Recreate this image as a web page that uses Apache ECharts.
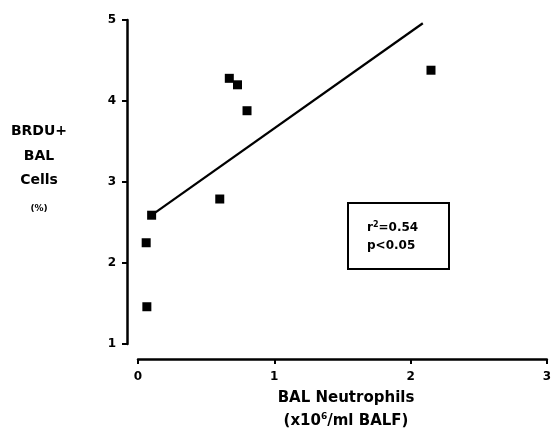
<!DOCTYPE html>
<html><head><meta charset="utf-8">
<script src="https://cdn.jsdelivr.net/npm/echarts@6/dist/echarts.min.js"></script>
<style>html,body{margin:0;padding:0;background:#fff}#c{width:554px;height:432px}</style>
</head><body><div id="c"></div>
<script>
const neutrophils = [0.06, 0.065, 0.10, 0.60, 0.67, 0.73, 0.80, 2.15];
const brduCells   = [2.25, 1.46, 2.59, 2.79, 4.28, 4.20, 3.88, 4.38];
const fitX = [0.10, 2.09];
const fitY = [2.59, 4.96];
const xTicks = [0, 1, 2, 3];
const yTicks = [1, 2, 3, 4, 5];
const yTitle = ['BRDU+', 'BAL', 'Cells', '(%)'];
const xTitle1 = 'BAL Neutrophils';
const xTitle2 = ['(x10', '6', '/ml BALF)'];
const statsText = [['r', '2', '=0.54'], ['p<0.05']];

const chart = echarts.init(document.getElementById('c'), null, {renderer: 'canvas'});
const font = '"DejaVu Sans", Verdana, sans-serif';
chart.setOption({
  animation: false,
  backgroundColor: '#fff',
  grid: {left: 138, right: 4, top: 20, bottom: 88, containLabel: false},
  xAxis: {
    type: 'value', min: xTicks[0], max: xTicks[xTicks.length - 1], interval: 1,
    offset: 15,
    axisLine: {show: true, onZero: false, lineStyle: {color: '#000', width: 2.5}},
    axisTick: {show: true, length: 5, lineStyle: {color: '#000', width: 2}},
    axisLabel: {color: '#000', fontFamily: font, fontWeight: 'bold', fontSize: 12, margin: 12},
    splitLine: {show: false}
  },
  yAxis: {
    type: 'value', min: yTicks[0], max: yTicks[yTicks.length - 1], interval: 1,
    offset: 11,
    axisLine: {show: true, onZero: false, lineStyle: {color: '#000', width: 2.5}},
    axisTick: {show: true, length: 5, lineStyle: {color: '#000', width: 2}},
    axisLabel: {color: '#000', fontFamily: font, fontWeight: 'bold', fontSize: 12, margin: 11},
    splitLine: {show: false}
  },
  series: [
    {
      type: 'line', data: fitX.map((x, i) => [x, fitY[i]]),
      symbol: 'none', lineStyle: {color: '#000', width: 2.2}, z: 2
    },
    {
      type: 'scatter', data: neutrophils.map((x, i) => [x, brduCells[i]]),
      symbol: 'rect', symbolSize: 9, itemStyle: {color: '#000', opacity: 1}, z: 3
    }
  ],
  graphic: [
    ...yTitle.map((t, i) => ({
      type: 'text', x: 39, y: [131, 156, 180, 209][i],
      style: {text: t, fill: '#000', font: (i === 3 ? 'bold 9px ' : 'bold 14px ') + font, align: 'center', verticalAlign: 'middle'}
    })),
    {
      type: 'text', x: 346, y: 398,
      style: {text: xTitle1, fill: '#000', font: 'bold 15px ' + font, align: 'center', verticalAlign: 'middle'}
    },
    {
      type: 'text', x: 346, y: 421,
      style: {
        text: '{a|' + xTitle2[0] + '}{s|' + xTitle2[1] + '}{a|' + xTitle2[2] + '}',
        align: 'center', verticalAlign: 'middle',
        rich: {
          a: {fill: '#000', font: 'bold 15px ' + font},
          s: {fill: '#000', font: 'bold 9px ' + font, padding: [0, 0, 8, 0]}
        }
      }
    },
    {
      type: 'rect', shape: {x: 348, y: 203, width: 101, height: 66},
      style: {fill: 'none', stroke: '#000', lineWidth: 2}
    },
    {
      type: 'text', x: 367, y: 228,
      style: {
        text: '{a|' + statsText[0][0] + '}{s|' + statsText[0][1] + '}{a|' + statsText[0][2] + '}',
        align: 'left', verticalAlign: 'middle',
        rich: {
          a: {fill: '#000', font: 'bold 12px ' + font},
          s: {fill: '#000', font: 'bold 8px ' + font, padding: [0, 0, 6, 0]}
        }
      }
    },
    {
      type: 'text', x: 367, y: 246,
      style: {text: statsText[1][0], fill: '#000', font: 'bold 12px ' + font, align: 'left', verticalAlign: 'middle'}
    }
  ]
});
</script></body></html>
